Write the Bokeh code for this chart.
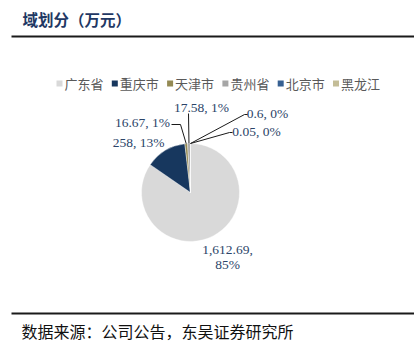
import math
from bokeh.plotting import figure
from bokeh.models import Range1d
from bokeh.embed import file_html
from bokeh.resources import INLINE
from bokeh.core.properties import value

# ---- data ----
regions = ["广东省", "重庆市", "天津市", "贵州省", "北京市", "黑龙江"]
amounts = [1612.69, 258, 16.67, 17.58, 0.6, 0.05]
percents = [85, 13, 1, 1, 0, 0]
title_text = "域划分（万元）"
source_text = "数据来源：公司公告，东吴证券研究所"

# ---- styles ----
colors = ["#D9D9D9", "#17375E", "#948A54", "#A6A6A6", "#376092", "#C4BD97"]
W, H = 414, 352


def Y(py):
    return H - py


def fmt(v):
    s = f"{v:,.2f}"
    if "." in s:
        s = s.rstrip("0").rstrip(".")
    return s


p = figure(width=W, height=H, x_range=Range1d(0, W), y_range=Range1d(0, H),
           output_backend="svg", toolbar_location=None, min_border=0,
           x_axis_type=None, y_axis_type=None)
p.grid.visible = False
p.outline_line_color = None
p.background_fill_color = "white"
p.border_fill_color = "white"

# title and rules
p.text(x=[22], y=[Y(18)], text=[title_text], text_font=value("Noto Sans CJK SC"),
       text_font_size="15.5px", text_font_style="bold", text_color="#1F3864",
       text_baseline="middle", text_align="left")
p.segment(x0=[11, 11], y0=[Y(36), Y(313)], x1=[W, W], y1=[Y(36), Y(313)],
          line_color="#1a1a1a", line_width=2)
p.text(x=[21], y=[Y(330)], text=[source_text], text_font=value("Noto Sans CJK SC"),
       text_font_size="16px", text_color="#111111",
       text_baseline="middle", text_align="left")

# legend
lx0, lstep, ly = 56, 55.3, 83
lxs = [lx0 + i * lstep for i in range(len(regions))]
p.rect(x=[x + 3 for x in lxs], y=[Y(ly)] * len(regions), width=6, height=6,
       fill_color=colors, line_color=None)
p.text(x=[x + 8 for x in lxs], y=[Y(ly)] * len(regions), text=regions,
       text_font=value("Noto Sans CJK SC"), text_font_size="13px",
       text_color="#595959", text_baseline="middle", text_align="left")

# pie
cx, cy, r = 190, Y(192), 49
total = sum(amounts)
starts, ends, mids = [], [], []
cum = 0.0
for v in amounts:
    a0 = math.pi / 2 - 2 * math.pi * cum / total
    cum += v
    a1 = math.pi / 2 - 2 * math.pi * cum / total
    starts.append(a0)
    ends.append(a1)
    mids.append((a0 + a1) / 2)
p.wedge(x=cx, y=cy, radius=r, start_angle=starts, end_angle=ends,
        direction="clock", fill_color=colors, line_color="white", line_width=0.4)

# labels
labels = []
for i, v in enumerate(amounts):
    if i == 0:
        labels.append(f"{fmt(v)},\n{percents[i]}%")
    else:
        labels.append(f"{fmt(v)}, {percents[i]}%")
label_pos = [(227, 256.5), (138, 142), (142, 122), (201, 107), (267, 113), (256, 131)]
p.text(x=[lp[0] for lp in label_pos], y=[Y(lp[1]) for lp in label_pos], text=labels,
       text_font=value("Liberation Serif"), text_font_size="13.5px",
       text_color="#2B4468", text_baseline="middle", text_align="center",
       text_line_height=1.0)

# leader lines for small slices
elbows = {2: [(180, 124), (171, 124)], 3: [(188, 113)],
          4: [(244, 114), (247, 114)], 5: [(229, 132), (232, 132)]}
xs, ys = [], []
for i, pts in elbows.items():
    sx = cx + r * math.cos(mids[i])
    sy = cy + r * math.sin(mids[i])
    xs.append([sx] + [pt[0] for pt in pts])
    ys.append([sy] + [Y(pt[1]) for pt in pts])
p.multi_line(xs=xs, ys=ys, line_color="#1a1a1a", line_width=1)

open("out.html", "w").write(file_html(p, INLINE))
